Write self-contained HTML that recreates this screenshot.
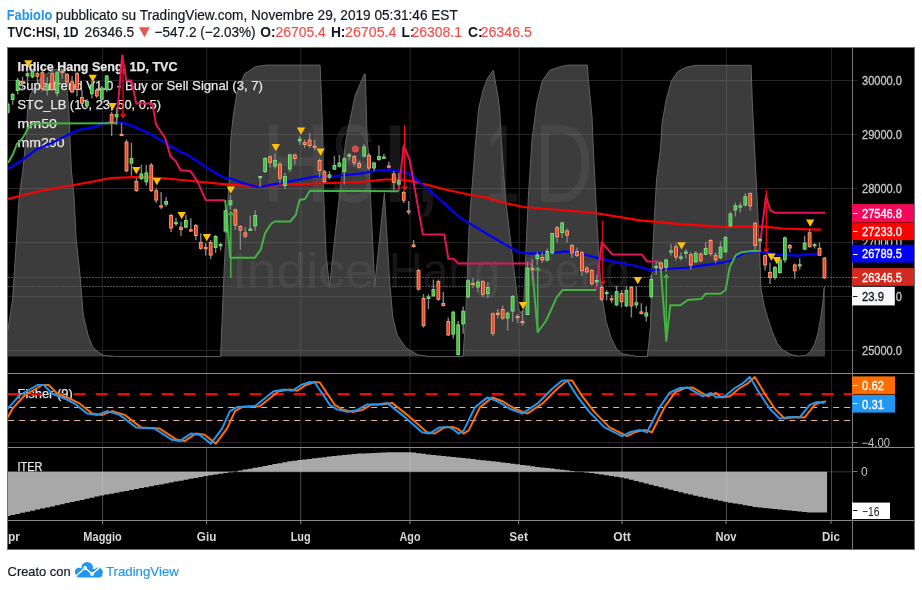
<!DOCTYPE html><html><head><meta charset="utf-8"><title>TVC:HSI</title><style>
html,body{margin:0;padding:0;background:#fff;width:922px;height:590px;overflow:hidden}
svg{display:block;will-change:transform}text{font-family:"Liberation Sans", sans-serif}
</style></head><body>
<svg width="922" height="590" viewBox="0 0 922 590">
<defs><clipPath id="cm"><rect x="8" y="48" width="844.5" height="325"/></clipPath><clipPath id="cf"><rect x="8" y="374" width="844.5" height="73"/></clipPath><clipPath id="ci"><rect x="8" y="448" width="844.5" height="72"/></clipPath></defs>
<rect width="922" height="590" fill="#fff"/>
<text x="6.8" y="19.5" font-size="13.8" fill="#2196f3" font-weight="bold" textLength="45.5" lengthAdjust="spacingAndGlyphs">FabioIo</text>
<text x="55.8" y="19.5" font-size="13.8" fill="#131722" stroke="#131722" stroke-width="0.2" textLength="402" lengthAdjust="spacingAndGlyphs">pubblicato su TradingView.com, Novembre 29, 2019 05:31:46 EST</text>
<g font-size="13.8" stroke-width="0.2">
<text x="7.5" y="37" font-weight="bold" fill="#131722" textLength="71" lengthAdjust="spacingAndGlyphs">TVC:HSI, 1D</text>
<text x="84.6" y="37" fill="#131722" stroke="#131722" textLength="49.6" lengthAdjust="spacingAndGlyphs">26346.5</text>
<path d="M139 27.3 L149.8 27.3 L144.4 37.3 Z" fill="#ef5350"/>
<text x="154.6" y="37" fill="#131722" stroke="#131722" textLength="101" lengthAdjust="spacingAndGlyphs">&#8722;547.2 (&#8722;2.03%)</text>
<text x="260.3" y="37" font-weight="bold" fill="#131722">O:</text>
<text x="275.4" y="37" fill="#ef5350" stroke="#ef5350" textLength="50.4" lengthAdjust="spacingAndGlyphs">26705.4</text>
<text x="330.9" y="37" font-weight="bold" fill="#131722">H:</text>
<text x="345.0" y="37" fill="#ef5350" stroke="#ef5350" textLength="51.4" lengthAdjust="spacingAndGlyphs">26705.4</text>
<text x="401.5" y="37" font-weight="bold" fill="#131722">L:</text>
<text x="411.6" y="37" fill="#ef5350" stroke="#ef5350" textLength="50.4" lengthAdjust="spacingAndGlyphs">26308.1</text>
<text x="468.0" y="37" font-weight="bold" fill="#131722">C:</text>
<text x="480.5" y="37" fill="#ef5350" stroke="#ef5350" textLength="51.5" lengthAdjust="spacingAndGlyphs">26346.5</text>
</g>
<rect x="7.5" y="47.5" width="907.0" height="502.0" fill="#000" stroke="#707070" stroke-width="1"/>
<path d="M102.6 48V520 M206.6 48V520 M300.7 48V520 M410.0 48V520 M519.2 48V520 M622.0 48V520 M726.5 48V520 M831.5 48V520 M8 80.5H852 M8 134.5H852 M8 188.5H852 M8 242.5H852 M8 296.5H852 M8 350.5H852 M8 442.5H852" stroke="#262626" stroke-width="1" fill="none"/>
<g clip-path="url(#cm)">
<g fill="#fff" fill-opacity="0.085">
<text x="261.2" y="202" font-size="111" textLength="68.6" lengthAdjust="spacingAndGlyphs">H</text>
<text x="330.6" y="202" font-size="111" textLength="45.3" lengthAdjust="spacingAndGlyphs">S</text>
<text x="379.8" y="202" font-size="111" textLength="30.8" lengthAdjust="spacingAndGlyphs">I</text>
<text x="412.0" y="202" font-size="111" textLength="30.8" lengthAdjust="spacingAndGlyphs">,</text>
<text x="484.6" y="202" font-size="111" textLength="35.8" lengthAdjust="spacingAndGlyphs">1</text>
<text x="534.4" y="202" font-size="111" textLength="58.5" lengthAdjust="spacingAndGlyphs">D</text>
<text x="232" y="287.5" font-size="50" textLength="142.7" lengthAdjust="spacingAndGlyphs">Indice</text>
<text x="388.9" y="287.5" font-size="50" textLength="111.2" lengthAdjust="spacingAndGlyphs">Hang</text>
<text x="524.9" y="287.5" font-size="50" textLength="105" lengthAdjust="spacingAndGlyphs">Seng</text>
</g>
<polygon points="8.0,356.6 8.0,330.0 12.5,300.0 16.2,244.0 19.2,196.0 22.8,171.0 26.3,135.0 27.6,108.6 30.3,95.0 34.3,87.6 41.5,76.5 53.7,69.8 61.8,68.8 64.8,70.3 66.5,85.0 68.9,110.0 69.8,135.0 71.4,171.0 74.0,196.0 76.2,240.0 79.5,270.0 83.3,315.0 88.0,335.0 92.6,347.0 98.0,352.0 103.8,355.4 116.8,356.6 220.6,356.6 224.4,264.0 229.9,165.0 230.7,140.0 233.4,114.5 237.1,92.4 244.5,74.0 255.6,66.6 266.6,65.1 320.1,65.1 321.0,86.9 322.9,140.0 323.5,190.0 326.0,253.0 329.5,287.5 340.0,190.0 345.9,140.0 355.0,96.0 364.3,74.0 365.3,74.0 367.1,140.0 368.3,150.0 373.7,264.0 374.5,287.5 384.4,193.0 389.5,280.0 392.8,317.3 397.2,335.0 406.0,348.0 417.7,354.8 429.5,356.6 463.0,356.6 465.5,320.0 467.0,280.0 469.0,230.0 471.0,200.0 475.8,140.0 478.6,109.0 483.2,89.6 487.8,77.7 493.3,70.3 497.9,96.0 499.8,110.8 501.3,140.0 505.7,200.0 518.7,309.0 521.0,313.0 523.5,309.0 528.2,200.0 532.0,140.0 536.7,103.5 542.2,81.3 549.6,70.3 560.6,66.6 568.0,65.1 587.4,65.1 588.3,79.5 592.0,116.4 592.9,140.0 597.1,225.0 600.2,276.0 601.3,291.0 603.7,307.0 606.1,321.5 611.0,337.6 616.6,349.0 622.2,353.7 630.3,355.3 638.3,356.6 647.2,356.6 648.8,344.0 650.4,326.4 651.2,302.0 652.0,270.0 654.0,225.0 656.5,180.0 660.4,150.0 662.1,122.9 666.4,98.6 671.6,80.4 677.7,71.7 685.5,67.4 696.0,65.3 751.1,65.3 752.3,102.0 754.6,150.0 756.2,180.0 759.2,241.0 761.0,288.0 764.0,305.0 767.5,317.3 772.0,331.0 777.3,343.5 782.5,349.8 788.7,353.3 794.0,355.5 800.2,356.2 806.0,355.2 810.5,351.5 814.9,343.5 818.0,333.0 820.8,317.3 822.8,303.0 824.0,288.0 825.0,286.4 825.0,356.6" fill="#808080" fill-opacity="0.47"/>
<polyline points="8.0,330.0 12.5,300.0 16.2,244.0 19.2,196.0 22.8,171.0 26.3,135.0 27.6,108.6 30.3,95.0 34.3,87.6 41.5,76.5 53.7,69.8 61.8,68.8 64.8,70.3 66.5,85.0 68.9,110.0 69.8,135.0 71.4,171.0 74.0,196.0 76.2,240.0 79.5,270.0 83.3,315.0 88.0,335.0 92.6,347.0 98.0,352.0 103.8,355.4 116.8,356.6 220.6,356.6 224.4,264.0 229.9,165.0 230.7,140.0 233.4,114.5 237.1,92.4 244.5,74.0 255.6,66.6 266.6,65.1 320.1,65.1 321.0,86.9 322.9,140.0 323.5,190.0 326.0,253.0 329.5,287.5 340.0,190.0 345.9,140.0 355.0,96.0 364.3,74.0 365.3,74.0 367.1,140.0 368.3,150.0 373.7,264.0 374.5,287.5 384.4,193.0 389.5,280.0 392.8,317.3 397.2,335.0 406.0,348.0 417.7,354.8 429.5,356.6 463.0,356.6 465.5,320.0 467.0,280.0 469.0,230.0 471.0,200.0 475.8,140.0 478.6,109.0 483.2,89.6 487.8,77.7 493.3,70.3 497.9,96.0 499.8,110.8 501.3,140.0 505.7,200.0 518.7,309.0 521.0,313.0 523.5,309.0 528.2,200.0 532.0,140.0 536.7,103.5 542.2,81.3 549.6,70.3 560.6,66.6 568.0,65.1 587.4,65.1 588.3,79.5 592.0,116.4 592.9,140.0 597.1,225.0 600.2,276.0 601.3,291.0 603.7,307.0 606.1,321.5 611.0,337.6 616.6,349.0 622.2,353.7 630.3,355.3 638.3,356.6 647.2,356.6 648.8,344.0 650.4,326.4 651.2,302.0 652.0,270.0 654.0,225.0 656.5,180.0 660.4,150.0 662.1,122.9 666.4,98.6 671.6,80.4 677.7,71.7 685.5,67.4 696.0,65.3 751.1,65.3 752.3,102.0 754.6,150.0 756.2,180.0 759.2,241.0 761.0,288.0 764.0,305.0 767.5,317.3 772.0,331.0 777.3,343.5 782.5,349.8 788.7,353.3 794.0,355.5 800.2,356.2 806.0,355.2 810.5,351.5 814.9,343.5 818.0,333.0 820.8,317.3 822.8,303.0 824.0,288.0 825.0,286.4" fill="none" stroke="#626262" stroke-width="1"/>
<path d="M8 277.5H852" stroke="#c62020" stroke-width="1" stroke-dasharray="2,1"/>
<path d="M8 286.5H852" stroke="#505050" stroke-width="1" stroke-dasharray="2,1"/>
<g font-size="13" fill="#e6e6e6" stroke="#e6e6e6" stroke-width="0.25">
<text x="17.5" y="71" font-weight="bold" textLength="160" lengthAdjust="spacingAndGlyphs">Indice Hang Seng, 1D, TVC</text>
<text x="17.5" y="90.2" textLength="245.5" lengthAdjust="spacingAndGlyphs">Supertrend V1.0 - Buy or Sell Signal (3, 7)</text>
<text x="17.5" y="109.2" textLength="143.5" lengthAdjust="spacingAndGlyphs">STC_LB (10, 23, 50, 0.5)</text>
<text x="17.5" y="128" textLength="39.5" lengthAdjust="spacingAndGlyphs">mm50</text>
<text x="17.5" y="146.8" textLength="47" lengthAdjust="spacingAndGlyphs">mm200</text>
</g>
<polyline points="8.0,199.0 40.0,191.0 85.0,183.0 111.0,178.0 140.0,176.8 167.0,178.5 192.0,181.0 218.0,183.6 240.0,185.3 260.0,186.0 290.0,184.5 315.0,183.5 360.0,182.0 385.0,179.5 400.0,179.5 415.0,181.7 447.5,190.0 471.0,195.0 488.0,197.8 500.0,202.0 523.5,207.0 554.0,209.5 595.0,213.0 640.0,220.4 683.0,224.3 703.0,225.7 727.7,227.2 744.0,226.3 764.0,226.7 783.0,228.5 794.0,229.0 821.0,229.7" fill="none" stroke="#ff0000" stroke-width="2.2" stroke-linejoin="round"/>
<polyline points="8.0,168.8 21.6,160.5 35.8,149.8 52.5,142.7 66.7,135.6 76.2,130.8 85.0,128.5 96.0,126.8 107.2,121.8 122.5,122.6 131.6,125.6 150.0,133.7 165.3,142.9 180.5,152.0 186.6,154.3 211.0,170.3 224.7,178.0 229.3,178.0 243.6,183.4 258.5,187.0 273.4,184.3 299.5,179.6 315.0,176.5 335.0,176.0 360.0,173.6 380.0,170.0 390.0,169.6 400.3,171.0 410.5,174.3 422.4,184.5 440.7,200.3 460.0,217.6 489.3,235.2 518.7,252.2 530.4,253.7 559.7,252.2 565.6,251.3 577.3,252.8 606.7,260.1 636.0,266.0 650.7,270.4 665.4,269.0 690.0,267.5 703.3,265.4 723.6,262.3 731.8,260.3 737.9,256.2 744.0,253.2 754.1,251.1 760.2,251.5 764.3,252.2 777.0,254.7 799.0,255.7 805.8,254.3 821.0,253.5" fill="none" stroke="#0000ff" stroke-width="2.2" stroke-linejoin="round"/>
<polyline points="116.4,123.3 122.2,55.4 126.3,80.6 131.6,80.6 136.2,103.5 152.3,103.5 156.1,124.6 165.3,138.3 170.6,156.6 175.9,161.2 180.5,170.3 190.4,171.1 197.3,181.0 205.7,200.1 225.2,200.2" fill="none" stroke="#e2135c" stroke-width="2" stroke-linejoin="round"/>
<polyline points="398.6,191.3 403.7,145.5 409.7,160.0 422.9,234.6 444.4,234.6 448.3,258.8 453.4,258.8 458.5,263.4 531.8,263.6" fill="none" stroke="#e2135c" stroke-width="2" stroke-linejoin="round"/>
<polyline points="596.0,290.0 601.8,242.3 612.4,254.5 641.9,254.5 647.0,261.6 659.0,261.6" fill="none" stroke="#e2135c" stroke-width="2" stroke-linejoin="round"/>
<polyline points="759.2,251.0 766.0,196.0 770.2,210.3 775.3,212.8 825.3,212.8" fill="none" stroke="#e2135c" stroke-width="2" stroke-linejoin="round"/>
<polyline points="8.0,163.0 13.3,153.4 16.9,144.0 22.8,138.0 28.7,127.3 33.5,123.5 116.4,123.3" fill="none" stroke="#43b343" stroke-width="2" stroke-linejoin="round"/>
<polyline points="225.2,200.2 230.3,257.8 254.8,257.8 260.8,249.3 265.0,233.2 271.0,224.0 274.4,221.5 290.2,221.5 295.8,215.0 299.5,200.0 305.0,199.0 309.8,190.8 398.6,191.3" fill="none" stroke="#43b343" stroke-width="2" stroke-linejoin="round"/>
<polyline points="531.8,263.6 537.7,332.0 546.0,321.0 556.7,297.3 562.6,290.0 596.0,290.0" fill="none" stroke="#43b343" stroke-width="2" stroke-linejoin="round"/>
<polyline points="659.0,261.6 661.0,271.7 666.3,340.8 670.3,305.3 680.5,305.3 687.6,300.0 701.3,299.0 705.4,293.8 720.6,293.8 725.7,289.8 729.7,267.4 735.8,255.2 741.9,252.2 752.1,251.1 759.2,251.0" fill="none" stroke="#43b343" stroke-width="2" stroke-linejoin="round"/>
<path d="M230.8 212.0V278.1" stroke="#43b343" stroke-width="1.5"/>
<path d="M537.7 267.6V333.0" stroke="#43b343" stroke-width="1.5"/>
<path d="M666.3 274.8V340.8" stroke="#43b343" stroke-width="1.5"/>
<path d="M123.0 55.0V117.2" stroke="#ff1010" stroke-width="1.2"/>
<path d="M120.8 114.0L123.0 117.2L125.2 114.0" stroke="#ff1010" stroke-width="1.4" fill="none"/>
<path d="M404.6 125.2V189.6" stroke="#ff1010" stroke-width="1.2"/>
<path d="M402.4 186.4L404.6 189.6L406.8 186.4" stroke="#ff1010" stroke-width="1.4" fill="none"/>
<path d="M602.8 220.4V284.0" stroke="#ff1010" stroke-width="1.2"/>
<path d="M600.6 280.8L602.8 284.0L605.0 280.8" stroke="#ff1010" stroke-width="1.4" fill="none"/>
<path d="M766.3 190.0V251.8" stroke="#ff1010" stroke-width="1.2"/>
<path d="M764.1 248.6L766.3 251.8L768.5 248.6" stroke="#ff1010" stroke-width="1.4" fill="none"/>
<path d="M228.6 215.2L230.8 212.0L233.0 215.2" stroke="#43b343" stroke-width="1.4" fill="none"/>
<path d="M535.5 270.8L537.7 267.6L539.9 270.8" stroke="#43b343" stroke-width="1.4" fill="none"/>
<path d="M664.1 278.0L666.3 274.8L668.5 278.0" stroke="#43b343" stroke-width="1.4" fill="none"/>
<path d="M7.71 102.0V114.0 M12.66 93.0V104.7 M17.61 78.0V94.5 M22.56 76.8V90.5 M27.51 70.0V83.0 M32.46 70.0V78.5 M37.41 72.0V83.0 M42.36 71.0V91.5 M47.31 77.0V95.6 M52.26 70.0V91.0 M57.21 71.0V96.6 M62.16 69.0V79.0 M67.11 73.0V85.0 M72.06 76.0V93.0 M77.01 72.0V96.6 M81.96 90.0V105.0 M86.91 99.0V108.0 M91.86 81.0V98.6 M96.81 88.0V98.0 M101.76 86.0V101.0 M106.71 75.0V92.0 M111.66 112.0V136.0 M116.61 107.4V125.0 M121.56 123.0V136.0 M126.51 139.5V172.4 M131.46 142.7V175.7 M136.41 178.0V192.0 M141.36 164.7V180.0 M146.31 164.7V185.6 M151.26 163.0V192.0 M156.21 187.8V203.0 M161.16 192.0V209.0 M166.11 197.0V206.4 M171.06 214.0V232.0 M176.01 217.5V226.0 M180.96 221.7V236.0 M185.91 215.0V228.5 M190.86 218.3V231.9 M195.81 224.0V240.0 M200.76 233.6V249.7 M205.71 243.0V255.6 M210.66 240.0V259.0 M215.61 235.0V253.0 M220.56 242.7V250.5 M225.51 209.5V233.0 M230.46 195.0V210.0 M235.41 208.5V230.0 M240.36 225.0V250.0 M245.31 227.3V238.3 M250.26 215.4V230.7 M255.21 210.3V230.7 M260.16 176.0V187.0 M265.11 157.0V173.0 M270.06 155.4V167.5 M275.01 153.5V168.4 M279.96 162.0V183.4 M284.91 173.0V189.0 M289.86 153.5V172.0 M294.81 153.5V164.7 M299.76 135.8V145.0 M304.71 139.6V148.0 M309.66 133.0V148.0 M314.61 139.7V150.0 M319.56 158.3V177.0 M324.51 170.0V183.0 M329.46 171.0V179.5 M334.41 155.8V170.0 M339.36 155.0V167.6 M344.31 157.5V184.6 M349.26 153.0V160.8 M354.21 155.0V166.0 M359.16 160.8V168.5 M364.11 144.0V157.5 M369.06 153.0V170.0 M374.01 161.7V171.0 M378.96 145.6V160.8 M383.91 154.0V159.0 M388.86 161.7V168.5 M393.81 171.0V190.5 M398.76 172.7V185.4 M403.71 190.5V203.0 M408.66 201.0V214.7 M413.61 240.0V247.8 M418.56 269.0V290.5 M423.51 294.0V327.8 M428.46 294.0V309.0 M433.41 279.5V296.4 M438.36 279.5V300.7 M443.31 292.0V306.6 M448.26 317.6V336.0 M453.21 310.8V338.8 M458.16 321.0V355.8 M463.11 306.6V333.7 M468.06 279.5V298.0 M473.01 277.8V288.0 M477.96 279.5V292.2 M482.91 280.3V297.3 M487.86 282.0V298.0 M492.81 312.5V336.0 M497.76 309.0V318.5 M502.71 305.6V319.8 M507.66 311.5V330.5 M512.61 295.0V322.0 M517.56 314.0V323.4 M522.51 310.0V325.8 M527.46 261.7V315.0 M532.41 259.0V279.5 M537.36 252.2V265.3 M542.31 252.2V262.9 M547.26 248.6V261.7 M552.21 233.0V254.6 M557.16 226.0V242.7 M562.11 221.4V238.0 M567.06 228.5V242.7 M572.01 244.0V258.0 M576.96 247.5V257.0 M581.91 251.0V276.0 M586.86 266.4V273.6 M591.81 268.8V285.4 M596.76 275.0V286.0 M601.71 285.0V301.2 M606.66 290.0V300.2 M611.61 295.0V303.2 M616.56 286.0V306.3 M621.51 290.0V307.3 M626.46 286.0V307.3 M631.41 286.0V317.5 M636.36 286.0V308.3 M641.31 303.2V314.4 M646.26 306.3V321.5 M651.21 274.8V298.2 M656.16 261.6V274.8 M661.11 261.6V270.7 M666.06 258.5V271.7 M671.01 244.3V255.5 M675.96 243.3V260.6 M680.91 252.4V260.6 M685.86 249.0V258.3 M690.81 252.2V269.4 M695.76 251.0V263.3 M700.71 252.2V262.3 M705.66 242.0V255.2 M710.61 239.0V256.2 M715.56 252.2V263.3 M720.51 241.0V259.3 M725.46 236.0V253.2 M730.41 211.5V227.2 M735.36 202.4V216.6 M740.31 202.4V212.5 M745.26 193.2V206.4 M750.21 192.2V210.5 M755.16 221.7V250.0 M760.11 238.0V252.2 M765.06 254.2V270.4 M770.01 262.8V284.0 M774.96 266.0V279.7 M779.91 258.5V273.8 M784.86 236.5V262.8 M789.81 244.0V252.6 M794.76 263.6V279.0 M799.71 258.6V269.6 M804.66 235.7V250.1 M809.61 228.9V247.5 M814.56 243.3V248.4 M819.51 242.5V256.0 M824.46 256.9V279.0" stroke="#848484" stroke-width="1.4" fill="none"/>
<rect x="5.81" y="103.7" width="3.8" height="9.1" fill="#80dc80"/><rect x="6.71" y="104.6" width="2" height="7.3" fill="#44c044"/><rect x="10.76" y="94.0" width="3.8" height="6.0" fill="#80dc80"/><rect x="11.66" y="94.9" width="2" height="4.2" fill="#44c044"/><rect x="15.71" y="79.8" width="3.8" height="11.2" fill="#80dc80"/><rect x="16.61" y="80.7" width="2" height="9.4" fill="#44c044"/><rect x="20.66" y="81.8" width="3.8" height="2.2" fill="#ffa074"/><rect x="21.56" y="82.7" width="2" height="0.5" fill="#e8472e"/><rect x="25.61" y="73.2" width="3.8" height="3.1" fill="#80dc80"/><rect x="26.51" y="74.1" width="2" height="1.3" fill="#44c044"/><rect x="30.56" y="71.0" width="3.8" height="6.3" fill="#80dc80"/><rect x="31.46" y="71.9" width="2" height="4.5" fill="#44c044"/><rect x="35.51" y="73.2" width="3.8" height="3.6" fill="#ffa074"/><rect x="36.41" y="74.1" width="2" height="1.8" fill="#e8472e"/><rect x="40.46" y="72.2" width="3.8" height="16.8" fill="#ffa074"/><rect x="41.36" y="73.1" width="2" height="15.0" fill="#e8472e"/><rect x="45.41" y="84.4" width="3.8" height="6.1" fill="#80dc80"/><rect x="46.31" y="85.3" width="2" height="4.3" fill="#44c044"/><rect x="50.36" y="73.2" width="3.8" height="16.8" fill="#ffa074"/><rect x="51.26" y="74.1" width="2" height="15.0" fill="#e8472e"/><rect x="55.31" y="72.2" width="3.8" height="21.3" fill="#80dc80"/><rect x="56.21" y="73.1" width="2" height="19.5" fill="#44c044"/><rect x="60.26" y="71.0" width="3.8" height="2.2" fill="#ffa074"/><rect x="61.16" y="71.9" width="2" height="0.5" fill="#e8472e"/><rect x="65.21" y="74.2" width="3.8" height="8.2" fill="#ffa074"/><rect x="66.11" y="75.1" width="2" height="6.4" fill="#e8472e"/><rect x="70.16" y="81.3" width="3.8" height="11.2" fill="#ffa074"/><rect x="71.06" y="82.2" width="2" height="9.4" fill="#e8472e"/><rect x="75.11" y="73.2" width="3.8" height="16.8" fill="#ffa074"/><rect x="76.01" y="74.1" width="2" height="15.0" fill="#e8472e"/><rect x="80.06" y="97.0" width="3.8" height="6.7" fill="#ffa074"/><rect x="80.96" y="97.9" width="2" height="4.9" fill="#e8472e"/><rect x="85.01" y="100.8" width="3.8" height="5.5" fill="#80dc80"/><rect x="85.91" y="101.7" width="2" height="3.7" fill="#44c044"/><rect x="89.96" y="84.3" width="3.8" height="9.9" fill="#80dc80"/><rect x="90.86" y="85.2" width="2" height="8.1" fill="#44c044"/><rect x="94.91" y="89.8" width="3.8" height="6.6" fill="#ffa074"/><rect x="95.81" y="90.7" width="2" height="4.8" fill="#e8472e"/><rect x="99.86" y="87.6" width="3.8" height="12.1" fill="#80dc80"/><rect x="100.76" y="88.5" width="2" height="10.3" fill="#44c044"/><rect x="104.81" y="75.5" width="3.8" height="14.3" fill="#80dc80"/><rect x="105.71" y="76.4" width="2" height="12.5" fill="#44c044"/><rect x="109.76" y="114.0" width="3.8" height="8.9" fill="#ffa074"/><rect x="110.66" y="114.9" width="2" height="7.1" fill="#e8472e"/><rect x="114.71" y="114.0" width="3.8" height="3.4" fill="#80dc80"/><rect x="115.61" y="114.9" width="2" height="1.6" fill="#44c044"/><rect x="119.66" y="133.9" width="3.8" height="2.2" fill="#ffa074"/><rect x="120.56" y="134.8" width="2" height="0.5" fill="#e8472e"/><rect x="124.61" y="141.6" width="3.8" height="29.7" fill="#ffa074"/><rect x="125.51" y="142.5" width="2" height="27.9" fill="#e8472e"/><rect x="129.56" y="158.0" width="3.8" height="5.6" fill="#80dc80"/><rect x="130.46" y="158.9" width="2" height="3.8" fill="#44c044"/><rect x="134.51" y="181.0" width="3.8" height="10.0" fill="#ffa074"/><rect x="135.41" y="181.9" width="2" height="8.2" fill="#e8472e"/><rect x="139.46" y="173.5" width="3.8" height="5.5" fill="#80dc80"/><rect x="140.36" y="174.4" width="2" height="3.7" fill="#44c044"/><rect x="144.41" y="172.4" width="3.8" height="9.9" fill="#80dc80"/><rect x="145.31" y="173.3" width="2" height="8.1" fill="#44c044"/><rect x="149.36" y="164.7" width="3.8" height="26.3" fill="#ffa074"/><rect x="150.26" y="165.6" width="2" height="24.5" fill="#e8472e"/><rect x="154.31" y="190.3" width="3.8" height="10.2" fill="#ffa074"/><rect x="155.21" y="191.2" width="2" height="8.4" fill="#e8472e"/><rect x="159.26" y="205.3" width="3.8" height="2.2" fill="#ffa074"/><rect x="160.16" y="206.2" width="2" height="0.5" fill="#e8472e"/><rect x="164.21" y="201.0" width="3.8" height="3.7" fill="#80dc80"/><rect x="165.11" y="201.9" width="2" height="1.9" fill="#44c044"/><rect x="169.16" y="215.0" width="3.8" height="13.5" fill="#ffa074"/><rect x="170.06" y="215.9" width="2" height="11.7" fill="#e8472e"/><rect x="174.11" y="222.0" width="3.8" height="2.2" fill="#80dc80"/><rect x="175.01" y="222.9" width="2" height="0.5" fill="#44c044"/><rect x="179.06" y="226.8" width="3.8" height="3.2" fill="#ffa074"/><rect x="179.96" y="227.7" width="2" height="1.4" fill="#e8472e"/><rect x="184.01" y="220.0" width="3.8" height="7.6" fill="#80dc80"/><rect x="184.91" y="220.9" width="2" height="5.8" fill="#44c044"/><rect x="188.96" y="229.3" width="3.8" height="2.2" fill="#ffa074"/><rect x="189.86" y="230.2" width="2" height="0.5" fill="#e8472e"/><rect x="193.91" y="225.0" width="3.8" height="11.0" fill="#ffa074"/><rect x="194.81" y="225.9" width="2" height="9.2" fill="#e8472e"/><rect x="198.86" y="242.0" width="3.8" height="6.8" fill="#ffa074"/><rect x="199.76" y="242.9" width="2" height="5.0" fill="#e8472e"/><rect x="203.81" y="247.0" width="3.8" height="2.2" fill="#ffa074"/><rect x="204.71" y="247.9" width="2" height="0.5" fill="#e8472e"/><rect x="208.76" y="242.0" width="3.8" height="13.6" fill="#ffa074"/><rect x="209.66" y="242.9" width="2" height="11.8" fill="#e8472e"/><rect x="213.71" y="236.0" width="3.8" height="12.0" fill="#80dc80"/><rect x="214.61" y="236.9" width="2" height="10.2" fill="#44c044"/><rect x="218.66" y="244.0" width="3.8" height="2.3" fill="#80dc80"/><rect x="219.56" y="244.9" width="2" height="0.5" fill="#44c044"/><rect x="223.61" y="210.3" width="3.8" height="21.2" fill="#80dc80"/><rect x="224.51" y="211.2" width="2" height="19.4" fill="#44c044"/><rect x="228.56" y="200.2" width="3.8" height="5.1" fill="#80dc80"/><rect x="229.46" y="201.1" width="2" height="3.3" fill="#44c044"/><rect x="233.51" y="209.5" width="3.8" height="16.1" fill="#ffa074"/><rect x="234.41" y="210.4" width="2" height="14.3" fill="#e8472e"/><rect x="238.46" y="226.0" width="3.8" height="4.7" fill="#ffa074"/><rect x="239.36" y="226.9" width="2" height="2.9" fill="#e8472e"/><rect x="243.41" y="232.4" width="3.8" height="4.2" fill="#ffa074"/><rect x="244.31" y="233.3" width="2" height="2.4" fill="#e8472e"/><rect x="248.36" y="228.6" width="3.8" height="2.2" fill="#80dc80"/><rect x="249.26" y="229.5" width="2" height="0.5" fill="#44c044"/><rect x="253.31" y="215.0" width="3.8" height="11.4" fill="#80dc80"/><rect x="254.21" y="215.9" width="2" height="9.6" fill="#44c044"/><rect x="258.26" y="176.0" width="3.8" height="2.2" fill="#80dc80"/><rect x="259.16" y="176.9" width="2" height="0.5" fill="#44c044"/><rect x="263.21" y="158.0" width="3.8" height="14.0" fill="#80dc80"/><rect x="264.11" y="158.9" width="2" height="12.2" fill="#44c044"/><rect x="268.16" y="156.3" width="3.8" height="6.6" fill="#ffa074"/><rect x="269.06" y="157.2" width="2" height="4.8" fill="#e8472e"/><rect x="273.11" y="160.0" width="3.8" height="6.6" fill="#80dc80"/><rect x="274.01" y="160.9" width="2" height="4.8" fill="#44c044"/><rect x="278.06" y="163.8" width="3.8" height="14.9" fill="#ffa074"/><rect x="278.96" y="164.7" width="2" height="13.1" fill="#e8472e"/><rect x="283.01" y="176.0" width="3.8" height="10.0" fill="#80dc80"/><rect x="283.91" y="176.9" width="2" height="8.2" fill="#44c044"/><rect x="287.96" y="154.5" width="3.8" height="14.9" fill="#80dc80"/><rect x="288.86" y="155.4" width="2" height="13.1" fill="#44c044"/><rect x="292.91" y="154.5" width="3.8" height="4.5" fill="#ffa074"/><rect x="293.81" y="155.4" width="2" height="2.7" fill="#e8472e"/><rect x="297.86" y="138.6" width="3.8" height="2.8" fill="#80dc80"/><rect x="298.76" y="139.5" width="2" height="1.0" fill="#44c044"/><rect x="302.81" y="142.0" width="3.8" height="3.0" fill="#ffa074"/><rect x="303.71" y="142.9" width="2" height="1.2" fill="#e8472e"/><rect x="307.76" y="139.6" width="3.8" height="6.4" fill="#ffa074"/><rect x="308.66" y="140.5" width="2" height="4.6" fill="#e8472e"/><rect x="312.71" y="145.6" width="3.8" height="2.2" fill="#ffa074"/><rect x="313.61" y="146.5" width="2" height="0.5" fill="#e8472e"/><rect x="317.66" y="160.0" width="3.8" height="11.0" fill="#ffa074"/><rect x="318.56" y="160.9" width="2" height="9.2" fill="#e8472e"/><rect x="322.61" y="171.4" width="3.8" height="10.6" fill="#ffa074"/><rect x="323.51" y="172.3" width="2" height="8.8" fill="#e8472e"/><rect x="327.56" y="174.4" width="3.8" height="3.4" fill="#80dc80"/><rect x="328.46" y="175.3" width="2" height="1.6" fill="#44c044"/><rect x="332.51" y="165.0" width="3.8" height="4.7" fill="#80dc80"/><rect x="333.41" y="165.9" width="2" height="2.9" fill="#44c044"/><rect x="337.46" y="162.5" width="3.8" height="4.3" fill="#80dc80"/><rect x="338.36" y="163.4" width="2" height="2.5" fill="#44c044"/><rect x="342.41" y="158.3" width="3.8" height="13.6" fill="#80dc80"/><rect x="343.31" y="159.2" width="2" height="11.8" fill="#44c044"/><rect x="347.36" y="154.4" width="3.8" height="2.2" fill="#80dc80"/><rect x="348.26" y="155.3" width="2" height="0.5" fill="#44c044"/><rect x="352.31" y="156.0" width="3.8" height="7.4" fill="#ffa074"/><rect x="353.21" y="156.9" width="2" height="5.6" fill="#e8472e"/><rect x="357.26" y="162.9" width="3.8" height="4.7" fill="#ffa074"/><rect x="358.16" y="163.8" width="2" height="2.9" fill="#e8472e"/><rect x="362.21" y="146.4" width="3.8" height="10.2" fill="#80dc80"/><rect x="363.11" y="147.3" width="2" height="8.4" fill="#44c044"/><rect x="367.16" y="155.0" width="3.8" height="13.5" fill="#ffa074"/><rect x="368.06" y="155.9" width="2" height="11.7" fill="#e8472e"/><rect x="372.11" y="162.5" width="3.8" height="6.0" fill="#80dc80"/><rect x="373.01" y="163.4" width="2" height="4.2" fill="#44c044"/><rect x="377.06" y="156.0" width="3.8" height="4.0" fill="#80dc80"/><rect x="377.96" y="156.9" width="2" height="2.2" fill="#44c044"/><rect x="382.01" y="156.6" width="3.8" height="2.2" fill="#80dc80"/><rect x="382.91" y="157.5" width="2" height="0.5" fill="#44c044"/><rect x="386.96" y="165.5" width="3.8" height="2.2" fill="#ffa074"/><rect x="387.86" y="166.4" width="2" height="0.5" fill="#e8472e"/><rect x="391.91" y="173.6" width="3.8" height="9.3" fill="#ffa074"/><rect x="392.81" y="174.5" width="2" height="7.5" fill="#e8472e"/><rect x="396.86" y="180.3" width="3.8" height="4.3" fill="#80dc80"/><rect x="397.76" y="181.2" width="2" height="2.5" fill="#44c044"/><rect x="401.81" y="192.0" width="3.8" height="8.7" fill="#ffa074"/><rect x="402.71" y="192.9" width="2" height="6.9" fill="#e8472e"/><rect x="406.76" y="210.5" width="3.8" height="2.2" fill="#ffa074"/><rect x="407.66" y="211.4" width="2" height="0.5" fill="#e8472e"/><rect x="411.71" y="244.4" width="3.8" height="2.6" fill="#ffa074"/><rect x="412.61" y="245.3" width="2" height="0.8" fill="#e8472e"/><rect x="416.66" y="270.0" width="3.8" height="19.7" fill="#ffa074"/><rect x="417.56" y="270.9" width="2" height="17.9" fill="#e8472e"/><rect x="421.61" y="298.0" width="3.8" height="28.0" fill="#ffa074"/><rect x="422.51" y="298.9" width="2" height="26.2" fill="#e8472e"/><rect x="426.56" y="296.4" width="3.8" height="2.6" fill="#80dc80"/><rect x="427.46" y="297.3" width="2" height="0.8" fill="#44c044"/><rect x="431.51" y="289.0" width="3.8" height="7.4" fill="#80dc80"/><rect x="432.41" y="289.9" width="2" height="5.6" fill="#44c044"/><rect x="436.46" y="281.0" width="3.8" height="18.8" fill="#ffa074"/><rect x="437.36" y="281.9" width="2" height="17.0" fill="#e8472e"/><rect x="441.41" y="303.0" width="3.8" height="3.0" fill="#ffa074"/><rect x="442.31" y="303.9" width="2" height="1.2" fill="#e8472e"/><rect x="446.36" y="321.0" width="3.8" height="14.4" fill="#ffa074"/><rect x="447.26" y="321.9" width="2" height="12.6" fill="#e8472e"/><rect x="451.31" y="311.7" width="3.8" height="22.9" fill="#80dc80"/><rect x="452.21" y="312.6" width="2" height="21.1" fill="#44c044"/><rect x="456.26" y="324.4" width="3.8" height="30.6" fill="#80dc80"/><rect x="457.16" y="325.3" width="2" height="28.8" fill="#44c044"/><rect x="461.21" y="310.8" width="3.8" height="13.6" fill="#80dc80"/><rect x="462.11" y="311.7" width="2" height="11.8" fill="#44c044"/><rect x="466.16" y="280.3" width="3.8" height="17.0" fill="#80dc80"/><rect x="467.06" y="281.2" width="2" height="15.2" fill="#44c044"/><rect x="471.11" y="282.9" width="3.8" height="2.2" fill="#ffa074"/><rect x="472.01" y="283.8" width="2" height="0.5" fill="#e8472e"/><rect x="476.06" y="281.7" width="3.8" height="5.8" fill="#80dc80"/><rect x="476.96" y="282.6" width="2" height="4.0" fill="#44c044"/><rect x="481.01" y="281.2" width="3.8" height="13.5" fill="#ffa074"/><rect x="481.91" y="282.1" width="2" height="11.7" fill="#e8472e"/><rect x="485.96" y="287.0" width="3.8" height="7.0" fill="#80dc80"/><rect x="486.86" y="287.9" width="2" height="5.2" fill="#44c044"/><rect x="490.91" y="313.4" width="3.8" height="20.3" fill="#ffa074"/><rect x="491.81" y="314.3" width="2" height="18.5" fill="#e8472e"/><rect x="495.86" y="312.7" width="3.8" height="2.3" fill="#ffa074"/><rect x="496.76" y="313.6" width="2" height="0.5" fill="#e8472e"/><rect x="500.81" y="309.0" width="3.8" height="9.6" fill="#ffa074"/><rect x="501.71" y="309.9" width="2" height="7.8" fill="#e8472e"/><rect x="505.76" y="312.7" width="3.8" height="5.9" fill="#80dc80"/><rect x="506.66" y="313.6" width="2" height="4.1" fill="#44c044"/><rect x="510.71" y="296.0" width="3.8" height="15.5" fill="#80dc80"/><rect x="511.61" y="296.9" width="2" height="13.7" fill="#44c044"/><rect x="515.66" y="316.0" width="3.8" height="2.2" fill="#ffa074"/><rect x="516.56" y="316.9" width="2" height="0.5" fill="#e8472e"/><rect x="520.61" y="321.0" width="3.8" height="2.2" fill="#ffa074"/><rect x="521.51" y="321.9" width="2" height="0.5" fill="#e8472e"/><rect x="525.56" y="267.6" width="3.8" height="47.4" fill="#80dc80"/><rect x="526.46" y="268.5" width="2" height="45.6" fill="#44c044"/><rect x="530.51" y="268.0" width="3.8" height="2.2" fill="#ffa074"/><rect x="531.41" y="268.9" width="2" height="0.5" fill="#e8472e"/><rect x="535.46" y="254.6" width="3.8" height="4.7" fill="#80dc80"/><rect x="536.36" y="255.5" width="2" height="2.9" fill="#44c044"/><rect x="540.41" y="257.0" width="3.8" height="3.5" fill="#ffa074"/><rect x="541.31" y="257.9" width="2" height="1.7" fill="#e8472e"/><rect x="545.36" y="251.0" width="3.8" height="9.5" fill="#80dc80"/><rect x="546.26" y="251.9" width="2" height="7.7" fill="#44c044"/><rect x="550.31" y="233.0" width="3.8" height="20.4" fill="#80dc80"/><rect x="551.21" y="233.9" width="2" height="18.6" fill="#44c044"/><rect x="555.26" y="227.3" width="3.8" height="10.0" fill="#ffa074"/><rect x="556.16" y="228.2" width="2" height="8.2" fill="#e8472e"/><rect x="560.21" y="222.5" width="3.8" height="10.5" fill="#80dc80"/><rect x="561.11" y="223.4" width="2" height="8.7" fill="#44c044"/><rect x="565.16" y="230.4" width="3.8" height="5.2" fill="#ffa074"/><rect x="566.06" y="231.3" width="2" height="3.4" fill="#e8472e"/><rect x="570.11" y="245.0" width="3.8" height="8.4" fill="#ffa074"/><rect x="571.01" y="245.9" width="2" height="6.6" fill="#e8472e"/><rect x="575.06" y="251.0" width="3.8" height="4.8" fill="#ffa074"/><rect x="575.96" y="251.9" width="2" height="3.0" fill="#e8472e"/><rect x="580.01" y="252.2" width="3.8" height="19.0" fill="#ffa074"/><rect x="580.91" y="253.1" width="2" height="17.2" fill="#e8472e"/><rect x="584.96" y="267.6" width="3.8" height="4.8" fill="#ffa074"/><rect x="585.86" y="268.5" width="2" height="3.0" fill="#e8472e"/><rect x="589.91" y="270.0" width="3.8" height="14.2" fill="#ffa074"/><rect x="590.81" y="270.9" width="2" height="12.4" fill="#e8472e"/><rect x="594.86" y="280.0" width="3.8" height="2.3" fill="#80dc80"/><rect x="595.76" y="280.9" width="2" height="0.5" fill="#44c044"/><rect x="599.81" y="287.0" width="3.8" height="12.8" fill="#ffa074"/><rect x="600.71" y="287.9" width="2" height="11.0" fill="#e8472e"/><rect x="604.76" y="292.0" width="3.8" height="2.2" fill="#80dc80"/><rect x="605.66" y="292.9" width="2" height="0.5" fill="#44c044"/><rect x="609.71" y="298.2" width="3.8" height="2.2" fill="#ffa074"/><rect x="610.61" y="299.1" width="2" height="0.5" fill="#e8472e"/><rect x="614.66" y="291.0" width="3.8" height="14.3" fill="#80dc80"/><rect x="615.56" y="291.9" width="2" height="12.5" fill="#44c044"/><rect x="619.61" y="293.0" width="3.8" height="9.2" fill="#ffa074"/><rect x="620.51" y="293.9" width="2" height="7.4" fill="#e8472e"/><rect x="624.56" y="290.0" width="3.8" height="16.3" fill="#80dc80"/><rect x="625.46" y="290.9" width="2" height="14.5" fill="#44c044"/><rect x="629.51" y="287.0" width="3.8" height="19.3" fill="#ffa074"/><rect x="630.41" y="287.9" width="2" height="17.5" fill="#e8472e"/><rect x="634.46" y="302.2" width="3.8" height="3.1" fill="#80dc80"/><rect x="635.36" y="303.1" width="2" height="1.3" fill="#44c044"/><rect x="639.41" y="311.4" width="3.8" height="2.6" fill="#ffa074"/><rect x="640.31" y="312.3" width="2" height="0.8" fill="#e8472e"/><rect x="644.36" y="312.4" width="3.8" height="4.1" fill="#80dc80"/><rect x="645.26" y="313.3" width="2" height="2.3" fill="#44c044"/><rect x="649.31" y="278.9" width="3.8" height="18.3" fill="#80dc80"/><rect x="650.21" y="279.8" width="2" height="16.5" fill="#44c044"/><rect x="654.26" y="266.0" width="3.8" height="2.2" fill="#80dc80"/><rect x="655.16" y="266.9" width="2" height="0.5" fill="#44c044"/><rect x="659.21" y="262.6" width="3.8" height="6.1" fill="#ffa074"/><rect x="660.11" y="263.5" width="2" height="4.3" fill="#e8472e"/><rect x="664.16" y="259.6" width="3.8" height="8.1" fill="#80dc80"/><rect x="665.06" y="260.5" width="2" height="6.3" fill="#44c044"/><rect x="669.11" y="250.4" width="3.8" height="2.2" fill="#80dc80"/><rect x="670.01" y="251.3" width="2" height="0.5" fill="#44c044"/><rect x="674.06" y="246.3" width="3.8" height="11.2" fill="#ffa074"/><rect x="674.96" y="247.2" width="2" height="9.4" fill="#e8472e"/><rect x="679.01" y="256.5" width="3.8" height="2.2" fill="#80dc80"/><rect x="679.91" y="257.4" width="2" height="0.5" fill="#44c044"/><rect x="683.96" y="251.5" width="3.8" height="2.2" fill="#80dc80"/><rect x="684.86" y="252.4" width="2" height="0.5" fill="#44c044"/><rect x="688.91" y="254.2" width="3.8" height="11.2" fill="#ffa074"/><rect x="689.81" y="255.1" width="2" height="9.4" fill="#e8472e"/><rect x="693.86" y="252.8" width="3.8" height="9.5" fill="#80dc80"/><rect x="694.76" y="253.7" width="2" height="7.7" fill="#44c044"/><rect x="698.81" y="253.6" width="3.8" height="7.7" fill="#ffa074"/><rect x="699.71" y="254.5" width="2" height="5.9" fill="#e8472e"/><rect x="703.76" y="248.0" width="3.8" height="6.8" fill="#80dc80"/><rect x="704.66" y="248.9" width="2" height="5.0" fill="#44c044"/><rect x="708.71" y="240.0" width="3.8" height="14.2" fill="#ffa074"/><rect x="709.61" y="240.9" width="2" height="12.4" fill="#e8472e"/><rect x="713.66" y="254.8" width="3.8" height="5.5" fill="#ffa074"/><rect x="714.56" y="255.7" width="2" height="3.7" fill="#e8472e"/><rect x="718.61" y="246.7" width="3.8" height="11.6" fill="#80dc80"/><rect x="719.51" y="247.6" width="2" height="9.8" fill="#44c044"/><rect x="723.56" y="237.0" width="3.8" height="15.2" fill="#80dc80"/><rect x="724.46" y="237.9" width="2" height="13.4" fill="#44c044"/><rect x="728.51" y="213.5" width="3.8" height="12.8" fill="#80dc80"/><rect x="729.41" y="214.4" width="2" height="11.0" fill="#44c044"/><rect x="733.46" y="205.4" width="3.8" height="5.1" fill="#80dc80"/><rect x="734.36" y="206.3" width="2" height="3.3" fill="#44c044"/><rect x="738.41" y="205.4" width="3.8" height="2.2" fill="#80dc80"/><rect x="739.31" y="206.3" width="2" height="0.5" fill="#44c044"/><rect x="743.36" y="196.3" width="3.8" height="9.1" fill="#80dc80"/><rect x="744.26" y="197.2" width="2" height="7.3" fill="#44c044"/><rect x="748.31" y="193.2" width="3.8" height="13.2" fill="#ffa074"/><rect x="749.21" y="194.1" width="2" height="11.4" fill="#e8472e"/><rect x="753.26" y="222.7" width="3.8" height="23.3" fill="#ffa074"/><rect x="754.16" y="223.6" width="2" height="21.5" fill="#e8472e"/><rect x="758.21" y="239.0" width="3.8" height="2.2" fill="#80dc80"/><rect x="759.11" y="239.9" width="2" height="0.5" fill="#44c044"/><rect x="763.16" y="255.2" width="3.8" height="10.1" fill="#ffa074"/><rect x="764.06" y="256.1" width="2" height="8.3" fill="#e8472e"/><rect x="768.11" y="272.0" width="3.8" height="6.0" fill="#ffa074"/><rect x="769.01" y="272.9" width="2" height="4.2" fill="#e8472e"/><rect x="773.06" y="267.0" width="3.8" height="11.0" fill="#80dc80"/><rect x="773.96" y="267.9" width="2" height="9.2" fill="#44c044"/><rect x="778.01" y="259.4" width="3.8" height="13.6" fill="#80dc80"/><rect x="778.91" y="260.3" width="2" height="11.8" fill="#44c044"/><rect x="782.96" y="237.4" width="3.8" height="22.9" fill="#80dc80"/><rect x="783.86" y="238.3" width="2" height="21.1" fill="#44c044"/><rect x="787.91" y="245.0" width="3.8" height="3.4" fill="#ffa074"/><rect x="788.81" y="245.9" width="2" height="1.6" fill="#e8472e"/><rect x="792.86" y="264.5" width="3.8" height="6.8" fill="#ffa074"/><rect x="793.76" y="265.4" width="2" height="5.0" fill="#e8472e"/><rect x="797.81" y="264.2" width="3.8" height="2.2" fill="#80dc80"/><rect x="798.71" y="265.1" width="2" height="0.5" fill="#44c044"/><rect x="802.76" y="242.5" width="3.8" height="7.1" fill="#80dc80"/><rect x="803.66" y="243.4" width="2" height="5.3" fill="#44c044"/><rect x="807.71" y="232.3" width="3.8" height="14.9" fill="#ffa074"/><rect x="808.61" y="233.2" width="2" height="13.1" fill="#e8472e"/><rect x="812.66" y="244.0" width="3.8" height="2.2" fill="#80dc80"/><rect x="813.56" y="244.9" width="2" height="0.5" fill="#44c044"/><rect x="817.61" y="247.9" width="3.8" height="7.8" fill="#ffa074"/><rect x="818.51" y="248.8" width="2" height="6.0" fill="#e8472e"/><rect x="822.56" y="257.7" width="3.8" height="20.7" fill="#ffa074"/><rect x="823.46" y="258.6" width="2" height="18.9" fill="#e8472e"/>
<path d="M24.1 60.2H32.5L28.3 67.4Z M88.5 74.8H96.9L92.7 82.0Z M108.3 103.0H116.7L112.5 110.2Z M132.1 167.0H140.5L136.3 174.2Z M152.7 178.0H161.1L156.9 185.2Z M177.5 212.0H185.9L181.7 219.2Z M202.6 234.0H211.0L206.8 241.2Z M226.6 186.4H235.0L230.8 193.6Z M271.6 144.0H280.0L275.8 151.2Z M296.8 127.5H305.2L301.0 134.7Z M316.4 148.6H324.8L320.6 155.8Z M518.8 302.0H527.2L523.0 309.2Z M633.6 277.0H642.0L637.8 284.2Z M677.3 242.3H685.7L681.5 249.5Z M767.2 253.5H775.6L771.4 260.7Z M772.6 257.0H781.0L776.8 264.2Z M806.0 219.6H814.4L810.2 226.8Z" fill="#ffc107"/>
<circle cx="355.4" cy="149" r="3.6" fill="#f05050" fill-opacity="0.85"/>
</g>
<path d="M8 373.5H914M8 447.5H914M8 520.5H914" stroke="#8c8c8c" stroke-width="1"/>
<path d="M852.5 48V549" stroke="#7a7a7a" stroke-width="1"/>
<g font-size="12.5" fill="#c8c8c8" stroke="#c8c8c8" stroke-width="0.3">
<path d="M853 80.5H857.5" stroke="#7a7a7a"/>
<text x="862" y="84.6" textLength="40" lengthAdjust="spacingAndGlyphs">30000.0</text>
<path d="M853 134.5H857.5" stroke="#7a7a7a"/>
<text x="862" y="138.6" textLength="40" lengthAdjust="spacingAndGlyphs">29000.0</text>
<path d="M853 188.5H857.5" stroke="#7a7a7a"/>
<text x="862" y="192.6" textLength="40" lengthAdjust="spacingAndGlyphs">28000.0</text>
<path d="M853 242.5H857.5" stroke="#7a7a7a"/>
<text x="862" y="246.6" textLength="40" lengthAdjust="spacingAndGlyphs">27000.0</text>
<path d="M853 296.5H857.5" stroke="#7a7a7a"/>
<text x="862" y="300.6" textLength="40" lengthAdjust="spacingAndGlyphs">26000.0</text>
<path d="M853 350.5H857.5" stroke="#7a7a7a"/>
<text x="862" y="354.6" textLength="40" lengthAdjust="spacingAndGlyphs">25000.0</text>
</g>
<rect x="852" y="204.1" width="62.0" height="17.9" fill="#f5085a"/>
<path d="M853 213.5H857.5" stroke="#fff" stroke-width="1"/>
<text x="862" y="217.8" font-size="13" fill="#fff" stroke="#fff" stroke-width="0.35" textLength="40.0" lengthAdjust="spacingAndGlyphs">27546.8</text>
<rect x="852" y="222.4" width="62.0" height="17.7" fill="#ff0000"/>
<path d="M853 231.5H857.5" stroke="#fff" stroke-width="1"/>
<text x="862" y="235.9" font-size="13" fill="#fff" stroke="#fff" stroke-width="0.35" textLength="40.0" lengthAdjust="spacingAndGlyphs">27233.0</text>
<rect x="852" y="244.8" width="62.0" height="17.7" fill="#0000ff"/>
<path d="M853 254.5H857.5" stroke="#fff" stroke-width="1"/>
<text x="862" y="258.4" font-size="13" fill="#fff" stroke="#fff" stroke-width="0.35" textLength="40.0" lengthAdjust="spacingAndGlyphs">26789.5</text>
<rect x="852" y="268.1" width="62.0" height="17.7" fill="#d32a20"/>
<path d="M853 277.5H857.5" stroke="#fff" stroke-width="1"/>
<text x="862" y="281.7" font-size="13" fill="#fff" stroke="#fff" stroke-width="0.35" textLength="40.0" lengthAdjust="spacingAndGlyphs">26346.5</text>
<rect x="852" y="286.8" width="42.8" height="18.6" fill="#f8f8f8"/>
<path d="M853 296.5H857.5" stroke="#131722" stroke-width="1"/>
<text x="862" y="300.8" font-size="13" fill="#131722" stroke="#131722" stroke-width="0.35" textLength="22.0" lengthAdjust="spacingAndGlyphs">23.9</text>
<text x="17.5" y="397.5" font-size="13" fill="#e6e6e6" stroke="#e6e6e6" stroke-width="0.25" textLength="55.3" lengthAdjust="spacingAndGlyphs">Fisher (9)</text>
<path d="M7.6 394.1H852" stroke="#ff0000" stroke-width="2.3" stroke-dasharray="12,10"/>
<path d="M8.2 407.5H852M8.2 420.5H852" stroke="#e8b4a0" stroke-width="1.1" stroke-dasharray="6,5"/>
<g clip-path="url(#cf)">
<polyline points="5.0,422.0 12.5,408.7 25.0,395.0 42.4,385.0 48.7,385.0 57.4,393.7 69.9,398.7 79.8,403.7 92.3,413.6 102.3,414.9 112.3,411.1 124.7,414.9 141.0,427.4 159.7,428.6 177.0,439.8 184.6,441.1 195.8,433.6 204.5,434.8 215.8,443.6 227.0,428.6 235.0,411.1 242.5,406.9 259.9,406.2 278.6,391.2 289.9,389.4 297.3,390.7 306.1,385.0 314.8,382.0 319.8,382.5 334.8,404.9 342.2,409.4 352.2,411.9 362.2,409.9 372.2,404.4 382.1,404.4 392.1,402.9 409.6,416.9 427.0,432.3 434.5,433.6 444.5,427.4 452.5,426.9 457.5,428.6 463.7,433.6 468.7,430.4 479.9,407.4 492.4,397.4 502.4,401.2 514.8,408.7 527.3,413.6 542.3,403.7 557.2,388.7 567.2,380.5 572.2,380.5 582.2,396.2 594.7,412.4 609.6,427.4 627.1,436.1 634.6,432.3 644.6,429.9 652.0,432.3 664.5,407.4 675.0,392.4 685.0,388.0 692.4,387.4 707.4,396.2 716.1,393.0 721.1,397.4 729.9,396.2 739.8,388.0 747.3,383.7 754.8,377.0 764.8,393.7 774.8,408.7 784.7,418.6 794.7,416.9 804.7,417.4 814.7,404.9 822.1,401.9 826.0,401.5" fill="none" stroke="#ff6d00" stroke-width="2" stroke-linejoin="round"/>
<polyline points="7.5,408.7 20.0,395.0 37.4,385.0 43.7,385.0 52.4,393.7 64.9,398.7 74.8,403.7 87.3,413.6 97.3,414.9 107.3,411.1 119.7,414.9 136.0,427.4 154.7,428.6 172.0,439.8 179.6,441.1 190.8,433.6 199.5,434.8 210.8,443.6 222.0,428.6 230.0,411.1 237.5,406.9 254.9,406.2 273.6,391.2 284.9,389.4 292.3,390.7 301.1,385.0 309.8,382.0 314.8,382.5 329.8,404.9 337.2,409.4 347.2,411.9 357.2,409.9 367.2,404.4 377.1,404.4 387.1,402.9 404.6,416.9 422.0,432.3 429.5,433.6 439.5,427.4 447.5,426.9 452.5,428.6 458.7,433.6 463.7,430.4 474.9,407.4 487.4,397.4 497.4,401.2 509.8,408.7 522.3,413.6 537.3,403.7 552.2,388.7 562.2,380.5 567.2,380.5 577.2,396.2 589.7,412.4 604.6,427.4 622.1,436.1 629.6,432.3 639.6,429.9 647.0,432.3 659.5,407.4 670.0,392.4 680.0,388.0 687.4,387.4 702.4,396.2 711.1,393.0 716.1,397.4 724.9,396.2 734.8,388.0 742.3,383.7 749.8,377.0 759.8,393.7 769.8,408.7 779.7,418.6 789.7,416.9 799.7,417.4 809.7,404.9 817.1,401.9 824.6,402.9" fill="none" stroke="#2196f3" stroke-width="2" stroke-linejoin="round"/>
</g>
<rect x="852" y="376.4" width="43" height="17.9" fill="#ff6d00"/>
<path d="M853 385.5H857.5" stroke="#fff"/>
<text x="862" y="390" font-size="13" fill="#fff" stroke="#fff" stroke-width="0.35" textLength="22" lengthAdjust="spacingAndGlyphs">0.62</text>
<rect x="852" y="395" width="43" height="17.6" fill="#2196f3"/>
<path d="M853 403.5H857.5" stroke="#fff"/>
<text x="862" y="408.5" font-size="13" fill="#fff" stroke="#fff" stroke-width="0.35" textLength="22" lengthAdjust="spacingAndGlyphs">0.31</text>
<path d="M853 442.5H857.5" stroke="#7a7a7a"/>
<text x="861.5" y="447" font-size="12" fill="#c4c4c4" textLength="28.5" lengthAdjust="spacingAndGlyphs">&#8722;4.00</text>
<path d="M5.1 471.7H10.3V516.0H5.1Z M10.1 471.7H15.3V515.0H10.1Z M15.0 471.7H20.2V513.9H15.0Z M20.0 471.7H25.2V512.8H20.0Z M24.9 471.7H30.1V511.7H24.9Z M29.9 471.7H35.1V510.7H29.9Z M34.8 471.7H40.0V509.6H34.8Z M39.8 471.7H45.0V508.5H39.8Z M44.7 471.7H49.9V507.4H44.7Z M49.7 471.7H54.9V506.4H49.7Z M54.6 471.7H59.8V505.3H54.6Z M59.6 471.7H64.8V504.2H59.6Z M64.5 471.7H69.7V503.1H64.5Z M69.5 471.7H74.7V502.0H69.5Z M74.4 471.7H79.6V501.0H74.4Z M79.4 471.7H84.6V499.9H79.4Z M84.3 471.7H89.5V498.8H84.3Z M89.3 471.7H94.5V497.7H89.3Z M94.2 471.7H99.4V496.6H94.2Z M99.2 471.7H104.4V495.6H99.2Z M104.1 471.7H109.3V494.6H104.1Z M109.1 471.7H114.3V493.7H109.1Z M114.0 471.7H119.2V492.8H114.0Z M119.0 471.7H124.2V491.8H119.0Z M123.9 471.7H129.1V490.9H123.9Z M128.9 471.7H134.1V490.0H128.9Z M133.8 471.7H139.0V489.0H133.8Z M138.8 471.7H144.0V488.1H138.8Z M143.7 471.7H148.9V487.2H143.7Z M148.7 471.7H153.9V486.3H148.7Z M153.6 471.7H158.8V485.3H153.6Z M158.6 471.7H163.8V484.4H158.6Z M163.5 471.7H168.7V483.5H163.5Z M168.5 471.7H173.7V482.6H168.5Z M173.4 471.7H178.6V481.6H173.4Z M178.4 471.7H183.6V480.7H178.4Z M183.3 471.7H188.5V479.8H183.3Z M188.3 471.7H193.5V478.8H188.3Z M193.2 471.7H198.4V477.9H193.2Z M198.2 471.7H203.4V477.0H198.2Z M203.1 471.7H208.3V476.1H203.1Z M208.1 471.7H213.3V475.3H208.1Z M213.0 471.7H218.2V474.5H213.0Z M218.0 471.7H223.2V473.8H218.0Z M222.9 471.7H228.1V473.0H222.9Z M227.9 471.7H233.1V472.3H227.9Z M232.8 471.5H238.0V471.7H232.8Z M237.8 470.6H243.0V471.7H237.8Z M242.7 469.6H247.9V471.7H242.7Z M247.7 468.7H252.9V471.7H247.7Z M252.6 467.8H257.8V471.7H252.6Z M257.6 466.9H262.8V471.7H257.6Z M262.5 465.9H267.7V471.7H262.5Z M267.5 465.0H272.7V471.7H267.5Z M272.4 464.1H277.6V471.7H272.4Z M277.4 463.2H282.6V471.7H277.4Z M282.3 462.3H287.5V471.7H282.3Z M287.3 461.3H292.5V471.7H287.3Z M292.2 460.7H297.4V471.7H292.2Z M297.2 460.1H302.4V471.7H297.2Z M302.1 459.5H307.3V471.7H302.1Z M307.1 458.9H312.3V471.7H307.1Z M312.0 458.3H317.2V471.7H312.0Z M317.0 457.8H322.2V471.7H317.0Z M321.9 457.2H327.1V471.7H321.9Z M326.9 456.6H332.1V471.7H326.9Z M331.8 456.1H337.0V471.7H331.8Z M336.8 455.5H342.0V471.7H336.8Z M341.7 455.0H346.9V471.7H341.7Z M346.7 454.4H351.9V471.7H346.7Z M351.6 453.9H356.8V471.7H351.6Z M356.6 453.6H361.8V471.7H356.6Z M361.5 453.4H366.7V471.7H361.5Z M366.5 453.2H371.7V471.7H366.5Z M371.4 453.0H376.6V471.7H371.4Z M376.4 452.7H381.6V471.7H376.4Z M381.3 452.5H386.5V471.7H381.3Z M386.3 452.3H391.5V471.7H386.3Z M391.2 452.2H396.4V471.7H391.2Z M396.2 452.2H401.4V471.7H396.2Z M401.1 452.2H406.3V471.7H401.1Z M406.1 452.2H411.3V471.7H406.1Z M411.0 452.6H416.2V471.7H411.0Z M416.0 453.2H421.2V471.7H416.0Z M420.9 453.8H426.1V471.7H420.9Z M425.9 454.4H431.1V471.7H425.9Z M430.8 455.0H436.0V471.7H430.8Z M435.8 455.6H441.0V471.7H435.8Z M440.7 456.1H445.9V471.7H440.7Z M445.7 456.6H450.9V471.7H445.7Z M450.6 457.1H455.8V471.7H450.6Z M455.6 457.6H460.8V471.7H455.6Z M460.5 458.1H465.7V471.7H460.5Z M465.5 458.6H470.7V471.7H465.5Z M470.4 459.1H475.6V471.7H470.4Z M475.4 459.7H480.6V471.7H475.4Z M480.3 460.2H485.5V471.7H480.3Z M485.3 460.7H490.5V471.7H485.3Z M490.2 461.3H495.4V471.7H490.2Z M495.2 461.8H500.4V471.7H495.2Z M500.1 462.4H505.3V471.7H500.1Z M505.1 463.0H510.3V471.7H505.1Z M510.0 463.7H515.2V471.7H510.0Z M515.0 464.3H520.2V471.7H515.0Z M519.9 465.0H525.1V471.7H519.9Z M524.9 465.6H530.1V471.7H524.9Z M529.8 466.3H535.0V471.7H529.8Z M534.8 466.9H540.0V471.7H534.8Z M539.7 467.5H544.9V471.7H539.7Z M544.7 468.0H549.9V471.7H544.7Z M549.6 468.6H554.8V471.7H549.6Z M554.6 469.2H559.8V471.7H554.6Z M559.5 469.7H564.7V471.7H559.5Z M564.5 470.3H569.7V471.7H564.5Z M569.4 470.9H574.6V471.7H569.4Z M574.4 471.4H579.6V471.7H574.4Z M579.3 471.7H584.5V471.9H579.3Z M584.3 471.7H589.5V472.4H584.3Z M589.2 471.7H594.4V473.0H589.2Z M594.2 471.7H599.4V473.7H594.2Z M599.1 471.7H604.3V474.5H599.1Z M604.1 471.7H609.3V475.2H604.1Z M609.0 471.7H614.2V475.9H609.0Z M614.0 471.7H619.2V476.7H614.0Z M618.9 471.7H624.1V477.4H618.9Z M623.9 471.7H629.1V478.5H623.9Z M628.8 471.7H634.0V479.8H628.8Z M633.8 471.7H639.0V481.0H633.8Z M638.7 471.7H643.9V482.3H638.7Z M643.7 471.7H648.9V483.5H643.7Z M648.6 471.7H653.8V484.7H648.6Z M653.6 471.7H658.8V486.0H653.6Z M658.5 471.7H663.7V487.2H658.5Z M663.5 471.7H668.7V488.5H663.5Z M668.4 471.7H673.6V489.7H668.4Z M673.4 471.7H678.6V490.9H673.4Z M678.3 471.7H683.5V492.2H678.3Z M683.3 471.7H688.5V493.4H683.3Z M688.2 471.7H693.4V494.6H688.2Z M693.2 471.7H698.4V495.8H693.2Z M698.1 471.7H703.3V496.8H698.1Z M703.1 471.7H708.3V497.8H703.1Z M708.0 471.7H713.2V498.8H708.0Z M713.0 471.7H718.2V499.8H713.0Z M717.9 471.7H723.1V500.8H717.9Z M722.9 471.7H728.1V501.8H722.9Z M727.8 471.7H733.0V502.7H727.8Z M732.8 471.7H738.0V503.5H732.8Z M737.7 471.7H742.9V504.3H737.7Z M742.7 471.7H747.9V505.2H742.7Z M747.6 471.7H752.8V506.0H747.6Z M752.6 471.7H757.8V506.9H752.6Z M757.5 471.7H762.7V507.6H757.5Z M762.5 471.7H767.7V508.1H762.5Z M767.4 471.7H772.6V508.6H767.4Z M772.4 471.7H777.6V509.1H772.4Z M777.3 471.7H782.5V509.6H777.3Z M782.3 471.7H787.5V510.0H782.3Z M787.2 471.7H792.4V510.5H787.2Z M792.2 471.7H797.4V511.0H792.2Z M797.1 471.7H802.3V511.6H797.1Z M802.1 471.7H807.3V512.1H802.1Z M807.0 471.7H812.2V512.4H807.0Z M812.0 471.7H817.2V512.4H812.0Z M816.9 471.7H822.1V512.4H816.9Z M821.9 471.7H827.1V512.4H821.9Z" fill="#a8a8a8" clip-path="url(#ci)"/>
<path d="M102.6 448V520 M206.6 448V520 M300.7 448V520 M410.0 448V520 M519.2 448V520 M622.0 448V520 M726.5 448V520 M831.5 448V520" stroke="#fff" stroke-opacity="0.18" stroke-width="1"/>
<path d="M8 471.8H852" stroke="#fff" stroke-opacity="0.2" stroke-width="1"/>
<text x="17.5" y="471" font-size="13" fill="#e6e6e6" stroke="#e6e6e6" stroke-width="0.25" textLength="25" lengthAdjust="spacingAndGlyphs">ITER</text>
<path d="M853 471.5H857.5" stroke="#7a7a7a"/>
<text x="861" y="476" font-size="12" fill="#c4c4c4">0</text>
<rect x="852" y="502.6" width="38" height="16.4" fill="#fff"/>
<path d="M853 510.5H857.5" stroke="#131722"/>
<text x="862" y="515.5" font-size="12.5" fill="#131722" textLength="17.5" lengthAdjust="spacingAndGlyphs">&#8722;16</text>
<g font-size="13" font-weight="bold" fill="#d8d8d8" text-anchor="middle">
<path d="M102.6 520V524" stroke="#8c8c8c"/>
<text x="102.6" y="541" textLength="38.5" lengthAdjust="spacingAndGlyphs">Maggio</text>
<path d="M206.6 520V524" stroke="#8c8c8c"/>
<text x="206.6" y="541" textLength="19.5" lengthAdjust="spacingAndGlyphs">Giu</text>
<path d="M300.7 520V524" stroke="#8c8c8c"/>
<text x="300.7" y="541" textLength="20.0" lengthAdjust="spacingAndGlyphs">Lug</text>
<path d="M410.0 520V524" stroke="#8c8c8c"/>
<text x="410.0" y="541" textLength="21.0" lengthAdjust="spacingAndGlyphs">Ago</text>
<path d="M518.6 520V524" stroke="#8c8c8c"/>
<text x="518.6" y="541" textLength="18.5" lengthAdjust="spacingAndGlyphs">Set</text>
<path d="M622.0 520V524" stroke="#8c8c8c"/>
<text x="622.0" y="541" textLength="17.5" lengthAdjust="spacingAndGlyphs">Ott</text>
<path d="M726.0 520V524" stroke="#8c8c8c"/>
<text x="726.0" y="541" textLength="21.0" lengthAdjust="spacingAndGlyphs">Nov</text>
<path d="M831.0 520V524" stroke="#8c8c8c"/>
<text x="831.0" y="541" textLength="18.0" lengthAdjust="spacingAndGlyphs">Dic</text>
</g>
<text x="8" y="541" font-size="12" font-weight="bold" fill="#d8d8d8">pr</text>
<text x="7.6" y="575.6" font-size="13" fill="#131722" stroke="#131722" stroke-width="0.2" textLength="63" lengthAdjust="spacingAndGlyphs">Creato con</text>
<g fill="#2196f3"><circle cx="79" cy="572" r="4.2"/><circle cx="87.2" cy="567.6" r="5.7"/><circle cx="98.2" cy="572.2" r="4.6"/><rect x="76.5" y="569" width="25.5" height="8.6" rx="2.5"/></g>
<polyline points="76.1,575.8 85.2,568 92.1,574 99.5,567.5" fill="none" stroke="#fff" stroke-width="1.5" stroke-linejoin="round"/>
<circle cx="85.2" cy="568" r="1.9" fill="#fff"/><circle cx="92.1" cy="574" r="1.9" fill="#fff"/>
<text x="105.9" y="575.6" font-size="13" fill="#2196f3" stroke="#2196f3" stroke-width="0.15" textLength="73" lengthAdjust="spacingAndGlyphs">TradingView</text>
</svg></body></html>
